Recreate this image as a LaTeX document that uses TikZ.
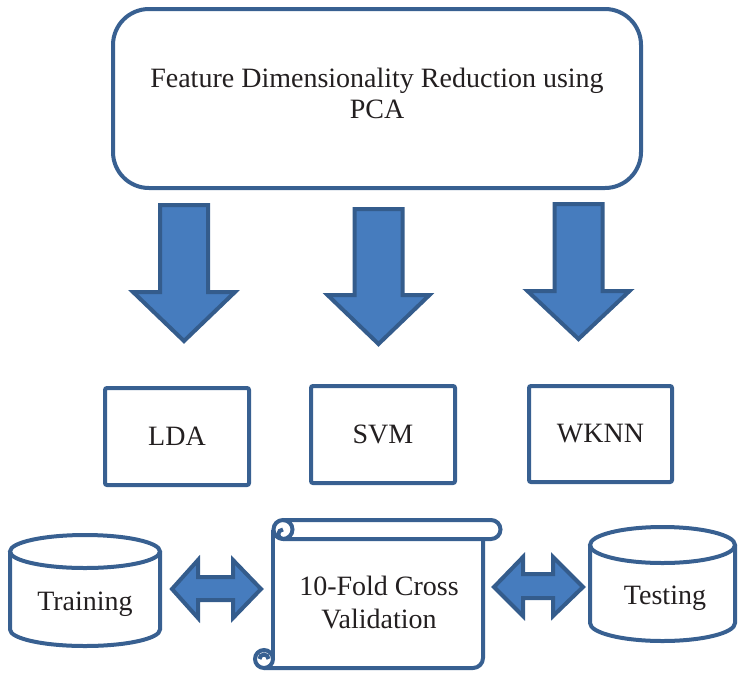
\documentclass[tikz,border=0pt]{standalone}
\usepackage{fontspec}
\setmainfont{Liberation Serif}
\definecolor{bline}{RGB}{56,96,145}
\definecolor{afill}{RGB}{70,124,190}
\definecolor{aline}{RGB}{52,92,140}
\definecolor{txt}{RGB}{35,31,32}
\begin{document}
\begin{tikzpicture}[x=1pt,y=-1pt,
  boxstyle/.style={draw=bline, line width=4pt, fill=white, text=txt,
    font=\fontsize{28}{35}\selectfont, inner sep=0pt},
  blockarrow/.style={draw=aline, fill=afill, line width=4pt, line join=miter},
  lbl/.style={font=\fontsize{28}{33}\selectfont, text=txt, inner sep=0pt},
  shapeline/.style={draw=bline, line width=4pt}]
\useasboundingbox (0,0) rectangle (738,672);

% top box
\node[boxstyle, rounded corners=36pt, minimum width=528pt, minimum height=179pt]
  (pca) at (377,98.5) {};
\node[lbl, font=\fontsize{28}{31}\selectfont, align=center] (pcatext) at (377,93)
  {Feature Dimensionality Reduction using\\PCA};

% down block arrows
\draw[blockarrow] (160,205) -- (208,205) -- (208,292) -- (235,292) -- (184,341)
  -- (133,292) -- (160,292) -- cycle;
\draw[blockarrow] (354.5,209) -- (402.5,209) -- (402.5,295) -- (429.5,295) -- (378.5,344)
  -- (327.5,295) -- (354.5,295) -- cycle;
\draw[blockarrow] (554.5,204) -- (602.5,204) -- (602.5,291) -- (629.5,291) -- (578.5,339)
  -- (527.5,291) -- (554.5,291) -- cycle;

% classifier boxes
\node[boxstyle, minimum width=144pt, minimum height=97pt, rounded corners=2pt] (lda) at (177,436.5) {LDA};
\node[boxstyle, minimum width=144pt, minimum height=97pt, rounded corners=2pt] (svm) at (383,434.5) {SVM};
\node[boxstyle, minimum width=143pt, minimum height=96pt, rounded corners=2pt] (wknn) at (600.5,434) {WKNN};

% Training cylinder
\draw[shapeline] (10,551.5) -- (10,629.5) arc[start angle=180, end angle=0, x radius=75, y radius=16.5]
  -- (160,551.5);
\draw[shapeline] (85,551.5) ellipse [x radius=75, y radius=16.5];
\node[lbl, anchor=base] (train) at (85,610) {Training};

% Testing cylinder
\draw[shapeline] (590,545) -- (590,623) arc[start angle=180, end angle=0, x radius=72.5, y radius=18]
  -- (735,545);
\draw[shapeline] (662.5,545) ellipse [x radius=72.5, y radius=18];
\node[lbl, anchor=base] (test) at (665,604) {Testing};

% scroll
\draw[shapeline, line join=round] (273,530) -- (273,659);
\draw[shapeline, line join=round] (264,668) -- (473,668) arc[start angle=90, end angle=0, radius=10] -- (483,539);
\draw[shapeline] (283,520) -- (491,520) arc[start angle=-90, end angle=90, radius=9.5] -- (283,539);
\draw[shapeline] (283,529.5) circle [radius=9.5];
\draw[shapeline] (283,539) arc[start angle=90, end angle=270, radius=4.75];
\draw[shapeline] (264,659) circle [radius=9];
\draw[shapeline] (268.5,659) arc[start angle=0, end angle=-180, radius=4.5];
\node[lbl, align=center] (cv) at (379,602) {10-Fold Cross\\Validation};

% double arrows
\draw[blockarrow] (172,589) -- (198,560) -- (198,577) -- (233,577) -- (233,560) -- (261,589)
  -- (233,618) -- (233,600) -- (198,600) -- (198,618) -- cycle;
\draw[blockarrow] (494,587) -- (523,557) -- (523,574) -- (553,574) -- (553,557) -- (583,587)
  -- (553,616) -- (553,598) -- (523,598) -- (523,616) -- cycle;
\end{tikzpicture}
\end{document}
